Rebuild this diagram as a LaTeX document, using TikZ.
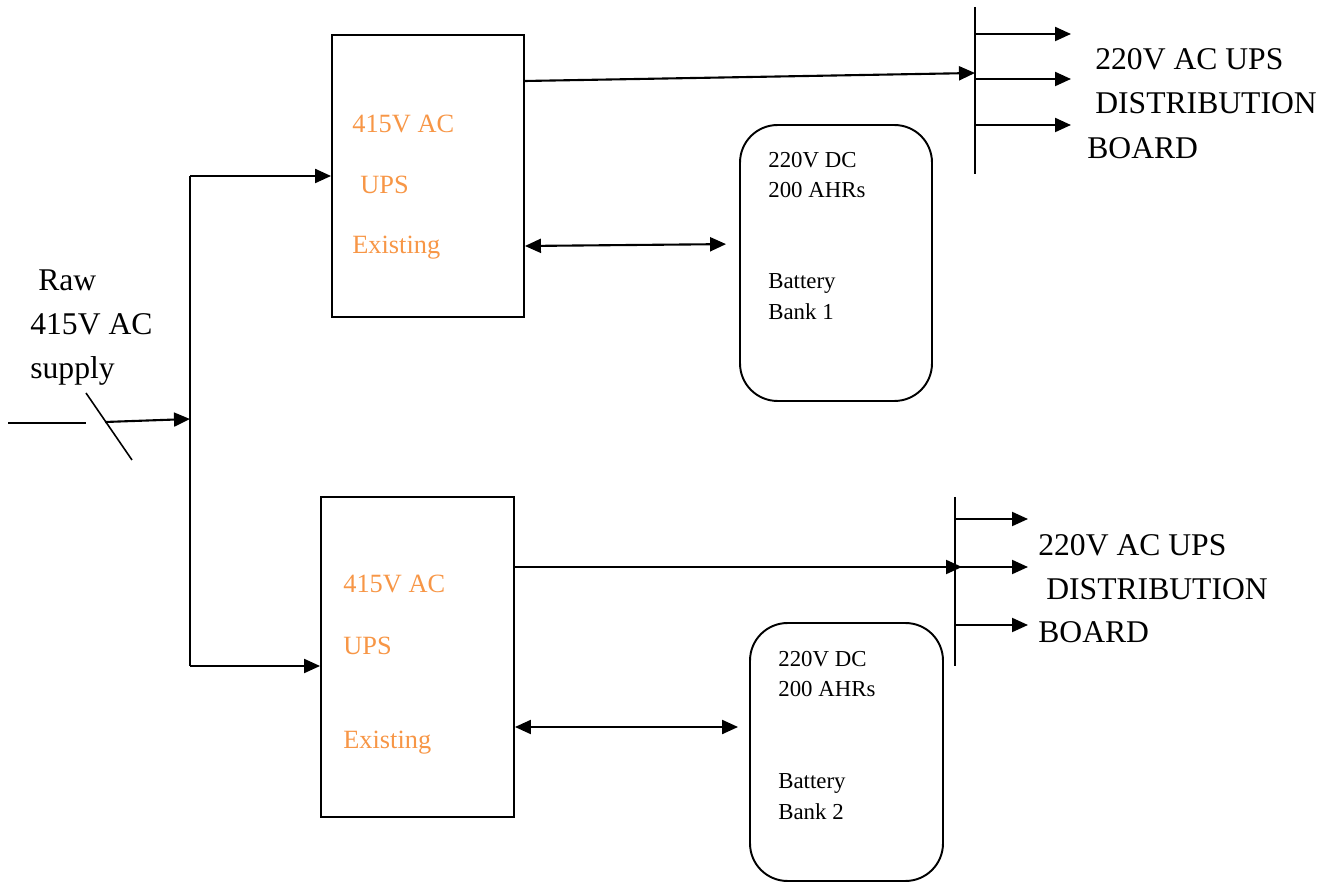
\documentclass[tikz,border=0pt]{standalone}
\usepackage{fontspec}
\setmainfont{Liberation Serif}
\usepackage{tikz}
\usetikzlibrary{arrows.meta, calc}
\definecolor{upsorange}{RGB}{247,150,70}
\tikzset{
    upsbox/.style={rectangle, draw=black, line width=1.1pt, inner sep=0pt},
    batbox/.style={rectangle, rounded corners=0.75cm, draw=black, line width=1.1pt, inner sep=0pt},
    arrow/.style={-{Triangle[length=0.32cm, width=0.28cm]}, line width=1.2pt},
    dblarrow/.style={{Triangle[length=0.32cm, width=0.28cm]}-{Triangle[length=0.32cm, width=0.28cm]}, line width=1.2pt},
    busline/.style={line width=1.1pt},
    lbl/.style={anchor=base west, inner sep=0pt, font=\fontsize{18}{22}\selectfont},
    upslbl/.style={lbl, text=upsorange, font=\fontsize{15}{18}\selectfont},
    batlbl/.style={lbl, font=\fontsize{13}{16}\selectfont},
}
\begin{document}
\begin{tikzpicture}[x=0.02cm, y=-0.02cm]
    \useasboundingbox (0,0) rectangle (1335,884);
    % UPS units and battery banks
    \node[upsbox, minimum width=3.84cm, minimum height=5.64cm] (ups1) at (428,176) {};
    \node[upsbox, minimum width=3.86cm, minimum height=6.4cm] (ups2) at (417.5,657) {};
    \node[batbox, minimum width=3.84cm, minimum height=5.52cm] (bat1) at (836,263) {};
    \node[batbox, minimum width=3.86cm, minimum height=5.16cm] (bat2) at (846.5,752) {};
    % labels inside the boxes
    \node[upslbl] (ups1a) at (352,133) {415V AC};
    \node[upslbl] (ups1b) at (360,194) {UPS};
    \node[upslbl] (ups1c) at (352,254) {Existing};
    \node[upslbl] (ups2a) at (343,593) {415V AC};
    \node[upslbl] (ups2b) at (343,654) {UPS};
    \node[upslbl] (ups2c) at (343,748) {Existing};
    \node[batlbl] (bat1a) at (768,168) {220V DC};
    \node[batlbl] (bat1b) at (768,198) {200 AHRs};
    \node[batlbl] (bat1c) at (768,289) {Battery};
    \node[batlbl] (bat1d) at (768,320) {Bank 1};
    \node[batlbl] (bat2a) at (778,666) {220V DC};
    \node[batlbl] (bat2b) at (778,696) {200 AHRs};
    \node[batlbl] (bat2c) at (778,788) {Battery};
    \node[batlbl] (bat2d) at (778,819) {Bank 2};
    % supply side
    \node[lbl] (raw1) at (38,290.5) {Raw};
    \node[lbl] (raw2) at (30,334.5) {415V AC};
    \node[lbl] (raw3) at (30,378.5) {supply};
    \coordinate (supin) at (8,423);
    \coordinate (supsw) at (86,423);
    \coordinate (bladetop) at (86,393);
    \coordinate (bladebot) at (132,460);
    \coordinate (feedtop) at (190,176);
    \coordinate (feedbot) at (190,666);
    \draw[busline] (supin) -- (supsw);
    \draw[line width=0.9pt] (bladetop) -- (bladebot);
    \draw[arrow] (105,422) -- (feedtop |- 0,419);
    \draw[busline] (feedtop) -- (feedbot);
    \draw[arrow] (feedtop) -- (ups1.west);
    \draw[arrow] (feedbot) -- (ups2.west |- feedbot);
    % UPS to battery banks
    \draw[dblarrow, shorten >=0.26cm] (ups1.east |- 0,246) -- (bat1.west |- 0,244);
    \draw[dblarrow, shorten >=0.22cm] (ups2.east |- 0,727) -- (bat2.west |- 0,727);
    % distribution boards
    \coordinate (bus1top) at (975,7);
    \coordinate (bus1bot) at (975,174);
    \coordinate (bus2top) at (955,497);
    \coordinate (bus2bot) at (955,666);
    \draw[busline] (bus1top) -- (bus1bot);
    \draw[busline] (bus2top) -- (bus2bot);
    \draw[arrow] (ups1.east |- 0,81) -- (bus1top |- 0,73);
    \draw[arrow] (ups2.east |- 0,567) -- ($(bus2top |- 0,567)+(7,0)$);
    \foreach \y in {34,79,125}
        \draw[arrow] (bus1top |- 0,\y) -- ++(96,0);
    \foreach \y in {519,567,625}
        \draw[arrow] (bus2top |- 0,\y) -- ++(73,0);
    \node[lbl] (db1a) at (1095,69.5) {220V AC UPS};
    \node[lbl] (db1b) at (1095,113.5) {DISTRIBUTION};
    \node[lbl] (db1c) at (1087,158.5) {BOARD};
    \node[lbl] (db2a) at (1038,555.5) {220V AC UPS};
    \node[lbl] (db2b) at (1046,599.5) {DISTRIBUTION};
    \node[lbl] (db2c) at (1038,642.5) {BOARD};
\end{tikzpicture}
\end{document}
